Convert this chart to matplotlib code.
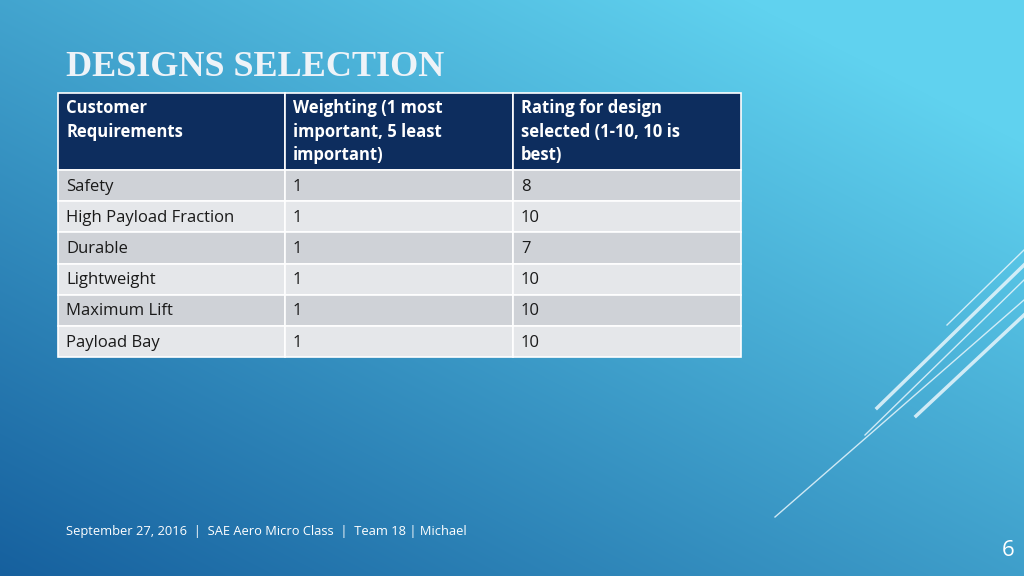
import numpy as np
import matplotlib.pyplot as plt
from matplotlib.patches import Rectangle

headers = ["Customer\nRequirements", "Weighting (1 most\nimportant, 5 least\nimportant)",
           "Rating for design\nselected (1-10, 10 is\nbest)"]
requirements = ["Safety", "High Payload Fraction", "Durable", "Lightweight", "Maximum Lift", "Payload Bay"]
weights = ["1", "1", "1", "1", "1", "1"]
ratings = ["8", "10", "7", "10", "10", "10"]

fig = plt.figure(figsize=(10.24, 5.76), dpi=100)
ax = fig.add_axes([0, 0, 1, 1])
ax.set_xlim(0, 1024); ax.set_ylim(576, 0); ax.axis("off")

yy, xx = np.mgrid[0:576, 0:1024]
t = np.clip((xx / 1024) * 0.55 + (1 - yy / 576) * 0.6, 0, 1)
c0 = np.array([0x16, 0x60, 0x9e]) / 255
c1 = np.array([0x60, 0xd2, 0xef]) / 255
img = c0[None, None, :] * (1 - t[..., None]) + c1[None, None, :] * t[..., None]
ax.imshow(img, extent=[0, 1024, 576, 0], aspect="auto", zorder=0)

ax.text(66, 68, "DESIGNS SELECTION", family="Liberation Serif", weight="bold", fontsize=26,
        color="#eef3f8", va="center", ha="left")

cols = [58, 285, 513, 741]
hy0, hy1 = 93, 170
rh = 31.2
for j in range(3):
    ax.add_patch(Rectangle((cols[j], hy0), cols[j+1]-cols[j], hy1-hy0, fc="#0d2d5e", ec="white", lw=1.2, zorder=2))
    ax.text(cols[j] + 8, hy0 + 6, headers[j], color="white", weight="bold", fontsize=12,
            family="Open Sans", va="top", ha="left", linespacing=1.4, zorder=3)
for i in range(len(requirements)):
    y = hy1 + i * rh
    fc = "#cfd2d7" if i % 2 == 0 else "#e5e7ea"
    vals = [requirements[i], weights[i], ratings[i]]
    for j in range(3):
        ax.add_patch(Rectangle((cols[j], y), cols[j+1]-cols[j], rh, fc=fc, ec="white", lw=1.2, zorder=2))
        ax.text(cols[j] + 8, y + rh/2 + 1, vals[j], color="#1a1a1a", fontsize=12,
                family="Open Sans", va="center", ha="left", zorder=3)

for (x0, y0, x1, y1, lw) in [(775, 517, 1024, 300, 1), (865, 435, 1024, 280, 1),
                             (877, 408, 1024, 265, 2.5), (916, 416, 1024, 315, 2.5),
                             (947, 325, 1024, 250, 1)]:
    ax.plot([x0, x1], [y0, y1], color="#e8f6fc", lw=lw, alpha=0.85, zorder=1)

ax.text(66, 531, "September 27, 2016  |  SAE Aero Micro Class  |  Team 18 | Michael",
        color="white", fontsize=9.3, family="Open Sans", va="center", ha="left")
ax.text(1008, 551, "6", color="white", fontsize=16, family="Open Sans", va="center", ha="center")

fig.savefig("out.png", dpi=100)
